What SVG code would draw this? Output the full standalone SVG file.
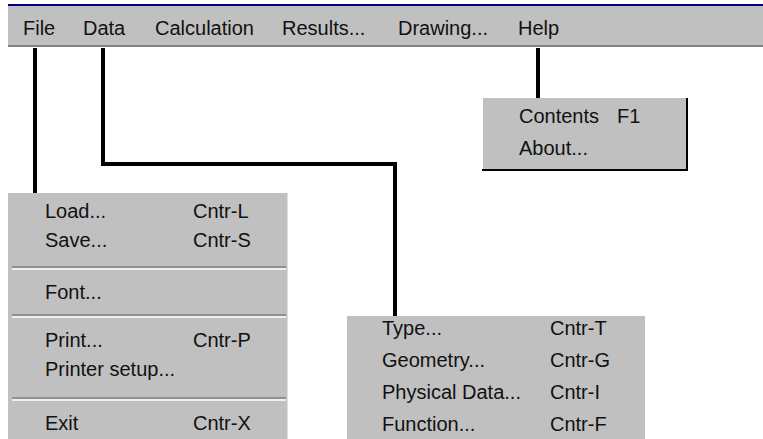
<svg xmlns="http://www.w3.org/2000/svg" width="763" height="439" viewBox="0 0 763 439">
<style>
text{font-family:"Liberation Sans",Arial,sans-serif;font-size:20px;fill:#111}
.bar{fill:#c0c0c0}
.menu{fill:#c0c0c0}
.sep1{stroke:#808080;stroke-width:1.5}
.sep2{stroke:#ffffff;stroke-width:1.5}
.conn{fill:none;stroke:#000;stroke-width:4;stroke-linejoin:miter}
</style>
<rect width="763" height="439" fill="#fff"/>
<g id="menubar">
<rect class="bar" x="8" y="5" width="755" height="42"/>
<line x1="8" y1="5" x2="763" y2="5" stroke="#000080" stroke-width="2"/>
<line x1="8" y1="46" x2="763" y2="46" stroke="#808080" stroke-width="2"/>
<text x="23" y="35">File</text>
<text x="83" y="35">Data</text>
<text x="155" y="35">Calculation</text>
<text x="282" y="35">Results...</text>
<text x="398" y="35">Drawing...</text>
<text x="518" y="35">Help</text>
</g>
<g id="connectors">
<path class="conn" d="M35 48 V194"/>
<path class="conn" d="M103 48 V164 H395 V316"/>
<path class="conn" d="M538 48 V100"/>
</g>
<g id="file-menu">
<rect class="menu" x="8" y="193" width="280" height="246"/>
<line x1="288" y1="193" x2="288" y2="439" stroke="#fff" stroke-width="1"/>
<text x="45" y="218">Load...</text><text x="193" y="218">Cntr-L</text>
<text x="45" y="247">Save...</text><text x="193" y="247">Cntr-S</text>
<line class="sep1" x1="12" y1="267" x2="286" y2="267"/><line class="sep2" x1="12" y1="269" x2="286" y2="269"/>
<text x="45" y="299">Font...</text>
<line class="sep1" x1="12" y1="315" x2="286" y2="315"/><line class="sep2" x1="12" y1="317" x2="286" y2="317"/>
<text x="45" y="347">Print...</text><text x="193" y="347">Cntr-P</text>
<text x="45" y="376">Printer setup...</text>
<line class="sep1" x1="12" y1="398" x2="286" y2="398"/><line class="sep2" x1="12" y1="400" x2="286" y2="400"/>
<text x="45" y="430">Exit</text><text x="193" y="430">Cntr-X</text>
</g>
<g id="data-menu">
<rect class="menu" x="347" y="316" width="298" height="123"/>
<text x="382" y="335">Type...</text><text x="550" y="335">Cntr-T</text>
<text x="382" y="367">Geometry...</text><text x="550" y="367">Cntr-G</text>
<text x="382" y="399">Physical Data...</text><text x="550" y="399">Cntr-I</text>
<text x="382" y="431">Function...</text><text x="550" y="431">Cntr-F</text>
</g>
<g id="help-menu">
<rect class="menu" x="483" y="98" width="204" height="72"/>
<path d="M482 170 H687 V98" fill="none" stroke="#000" stroke-width="2"/>
<text x="519" y="123">Contents</text><text x="617" y="123">F1</text>
<text x="519" y="155">About...</text>
</g>
</svg>
